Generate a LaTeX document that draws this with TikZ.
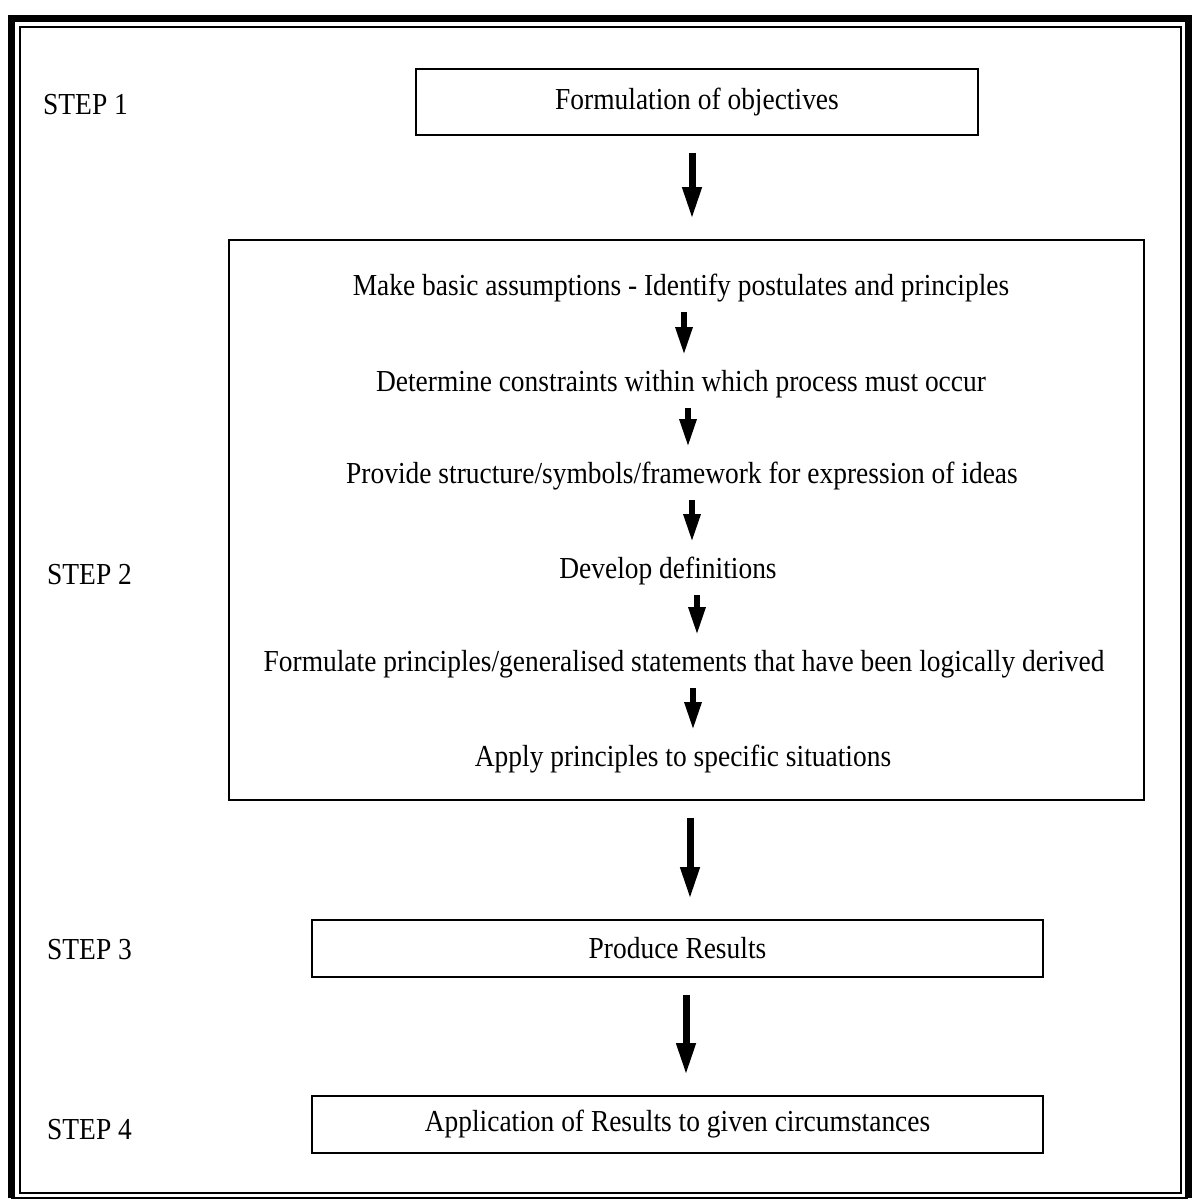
\documentclass[tikz,border=0pt]{standalone}
\usepackage{fontspec}
\setmainfont[FakeStretch=0.9]{Liberation Serif}
\usetikzlibrary{arrows.meta}

\tikzset{
  txt/.style={font=\fontsize{30.5}{36}\selectfont, inner sep=0pt},
  stepbox/.style={draw, line width=1.8pt, txt},
  barrow/.style={line width=7pt, -{Triangle[length=32pt,width=18pt]}, shorten <=17pt, shorten >=20pt},
  sarrow/.style={line width=6pt, -{Triangle[length=28pt,width=16pt]}, shorten <=24pt, shorten >=29pt},
}

\begin{document}
\begin{tikzpicture}[x=1pt, y=-1pt]
  \useasboundingbox (0,0) rectangle (1191,1201);

  % frame
  \draw[line width=7pt] (11,1198) -- (11,19) -- (1188,19) -- (1188,1198);
  \draw[line width=2pt] (11,1198) -- (1188,1198);
  \draw[line width=1.5pt] (20,27) rectangle (1181,1193);

  % step labels
  \node[txt, anchor=west] (s1) at (43,105) {STEP 1};
  \node[txt, anchor=west] (s2) at (47,575) {STEP 2};
  \node[txt, anchor=west] (s3) at (47,950) {STEP 3};
  \node[txt, anchor=west] (s4) at (47,1130) {STEP 4};

  % boxes
  \node[stepbox, minimum width=562pt, minimum height=66pt] (obj) at (697,102) {Formulation of objectives};
  \node[draw, line width=1.8pt, minimum width=915pt, minimum height=560pt] (big) at (686.5,520) {};
  \node[stepbox, minimum width=731pt, minimum height=57pt] (res) at (677.5,948.5) {Produce Results};
  \node[stepbox, minimum width=731pt, minimum height=57pt] (app) at (677.5,1124.5) {Application of Results to given circumstances};

  % inside step 2
  \node[txt] (a) at (681,288) {Make basic assumptions - Identify postulates and principles};
  \node[txt] (b) at (681,384) {Determine constraints within which process must occur};
  \node[txt] (c) at (682,476) {Provide structure/symbols/framework for expression of ideas};
  \node[txt] (d) at (668,571) {Develop definitions};
  \node[txt] (e) at (684,664) {Formulate principles/generalised statements that have been logically derived};
  \node[txt] (f) at (683,759) {Apply principles to specific situations};

  \draw[sarrow] (a.center -| 684,0) -- (b.center -| 684,0);
  \foreach \u/\v/\x in {b/c/688, c/d/692, d/e/697, e/f/693}
    \draw[sarrow] (\u.center -| \x,0) -- (\v.center -| \x,0);

  % between steps
  \draw[barrow] (obj.south -| 692,0) -- (big.north -| 692,0);
  \draw[barrow] (big.south -| 690,0) -- (res.north -| 690,0);
  \draw[barrow] (res.south -| 686,0) -- (app.north -| 686,0);
\end{tikzpicture}
\end{document}
